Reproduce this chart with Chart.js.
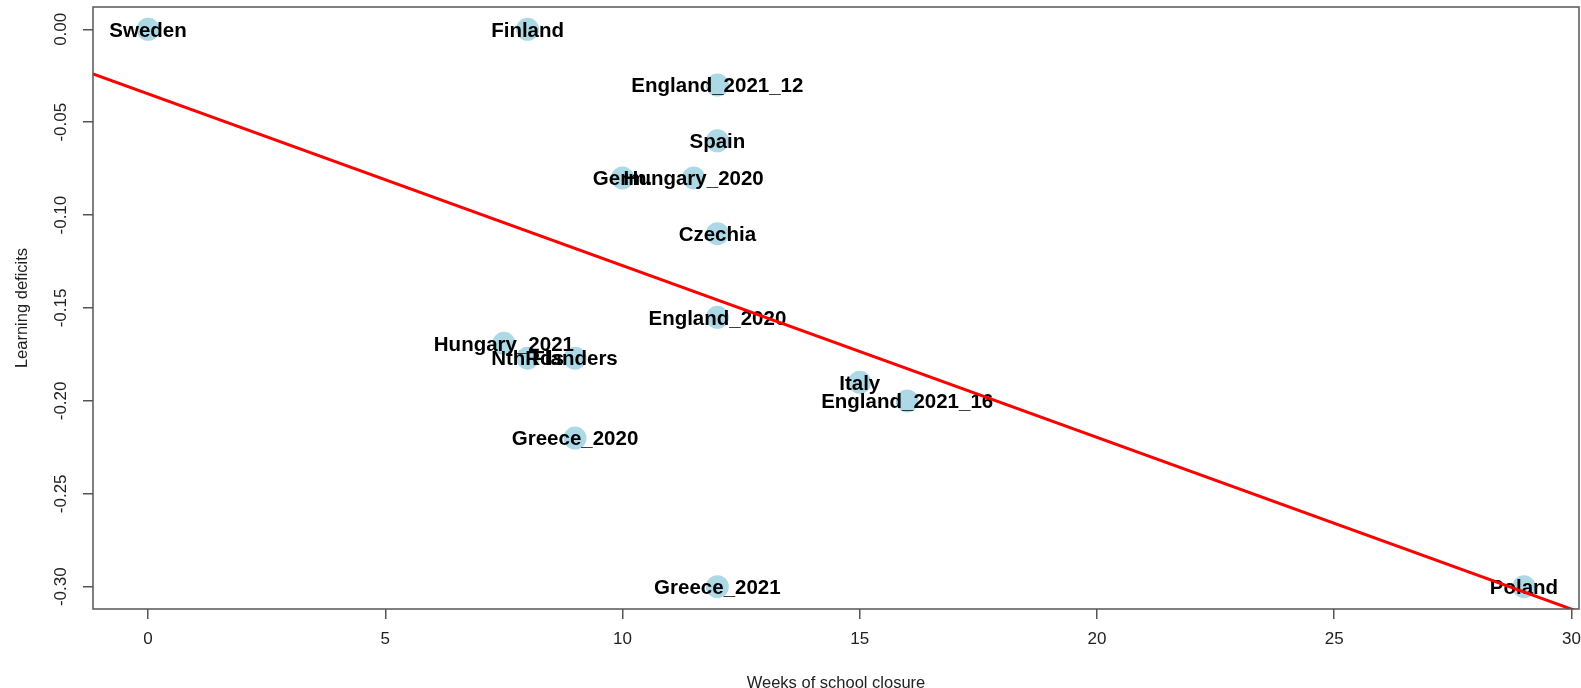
<!DOCTYPE html>
<html>
<head>
<meta charset="utf-8">
<title>Learning deficits vs. weeks of school closure</title>
<script src="https://cdn.jsdelivr.net/npm/chart.js@4.4.1/dist/chart.umd.min.js"></script>
<style>
  html, body { margin: 0; padding: 0; background: #ffffff; }
  #wrap { width: 1581px; height: 688px; position: relative; }
</style>
</head>
<body>
<div id="wrap"><canvas id="chart" width="1581" height="688"></canvas></div>
<script>
// Study results: weeks of school closure against measured learning deficit
const countries = ['Sweden', 'Finland', 'England_2021_12', 'Spain', 'Germ.', 'Hungary_2020', 'Czechia',
  'England_2020', 'Hungary_2021', 'NthRds', 'Flanders', 'Italy', 'England_2021_16', 'Greece_2020',
  'Greece_2021', 'Poland'];
const weeksClosed = [0, 8, 12, 12, 10, 11.5, 12, 12, 7.5, 8, 9, 15, 16, 9, 12, 29];
const learningDeficit = [0, 0, -0.03, -0.06, -0.08, -0.08, -0.11, -0.155, -0.169, -0.177, -0.177,
  -0.19, -0.20, -0.22, -0.30, -0.30];

const xTickValues = [0, 5, 10, 15, 20, 25, 30];
const xTickLabels = ['0', '5', '10', '15', '20', '25', '30'];
const yTickValues = [-0.30, -0.25, -0.20, -0.15, -0.10, -0.05, 0.00];
const yTickLabels = ['-0.30', '-0.25', '-0.20', '-0.15', '-0.10', '-0.05', '0.00'];

// Axis ranges: data range widened by 4% on each side
function paddedRange(values) {
  const lo = Math.min(...values), hi = Math.max(...values);
  const pad = (hi - lo) * 0.04;
  return [lo - pad, hi + pad];
}
const [xMin, xMax] = paddedRange(weeksClosed);
const [yMin, yMax] = paddedRange(learningDeficit);

// Ordinary least-squares fit of deficit on weeks closed
function leastSquares(xs, ys) {
  const n = xs.length;
  const mx = xs.reduce((a, b) => a + b, 0) / n;
  const my = ys.reduce((a, b) => a + b, 0) / n;
  let sxy = 0, sxx = 0;
  for (let i = 0; i < n; i++) {
    sxy += (xs[i] - mx) * (ys[i] - my);
    sxx += (xs[i] - mx) * (xs[i] - mx);
  }
  const slope = sxy / sxx;
  return { slope, intercept: my - slope * mx };
}
const fit = leastSquares(weeksClosed, learningDeficit);
const fitLine = [xMin, xMax].map(x => ({ x, y: fit.intercept + fit.slope * x }));

const FONT = "'Liberation Sans', Arial, Helvetica, sans-serif";
Chart.defaults.font.family = FONT;

// Country names written over each point, beneath the fitted line
const pointLabels = {
  id: 'pointLabels',
  afterDatasetDraw(chart, args) {
    if (args.index !== 1) return;
    const ctx = chart.ctx;
    ctx.save();
    ctx.font = 'bold 20.5px ' + FONT;
    ctx.fillStyle = '#000000';
    ctx.textAlign = 'center';
    ctx.textBaseline = 'alphabetic';
    args.meta.data.forEach((el, i) => {
      ctx.fillText(countries[i], el.x, el.y + 7.3);
    });
    ctx.restore();
  }
};

// Frame around the plotting region
const plotFrame = {
  id: 'plotFrame',
  afterDraw(chart) {
    const { ctx, chartArea: a } = chart;
    ctx.save();
    ctx.strokeStyle = '#555555';
    ctx.lineWidth = 1.5;
    ctx.strokeRect(a.left, a.top, a.right - a.left, a.bottom - a.top);
    ctx.restore();
  }
};

// Fixed axis box sizes, no extra room for overhanging tick labels
function fixAxisBox(size, horizontal) {
  return s => {
    if (horizontal) s.height = size; else s.width = size;
    s.paddingLeft = s.paddingRight = s.paddingTop = s.paddingBottom = 0;
  };
}

const axisGrid = {
  drawOnChartArea: false,
  drawTicks: true,
  tickLength: 10,
  color: '#555555',
  lineWidth: 1.5
};

new Chart(document.getElementById('chart'), {
  type: 'scatter',
  data: {
    datasets: [
      {
        label: 'fit',
        data: fitLine,
        showLine: true,
        borderColor: '#ff0000',
        borderWidth: 3,
        pointRadius: 0,
        pointHoverRadius: 0
      },
      {
        label: 'countries',
        data: weeksClosed.map((x, i) => ({ x, y: learningDeficit[i] })),
        backgroundColor: '#add8e6',
        borderWidth: 0,
        pointRadius: 11.5,
        pointHoverRadius: 11.5
      }
    ]
  },
  options: {
    responsive: false,
    animation: false,
    events: [],
    layout: { autoPadding: false, padding: { left: 0, top: 7, right: 2, bottom: 0 } },
    plugins: { legend: { display: false }, tooltip: { enabled: false } },
    scales: {
      x: {
        type: 'linear',
        min: xMin,
        max: xMax,
        afterBuildTicks: s => { s.ticks = xTickValues.map(v => ({ value: v })); },
        afterFit: fixAxisBox(79, true),
        ticks: {
          callback: (v, i) => xTickLabels[i],
          font: { size: 17 },
          color: '#222222',
          padding: 10,
          maxRotation: 0,
          autoSkip: false
        },
        grid: axisGrid,
        border: { display: false },
        title: {
          display: true,
          text: 'Weeks of school closure',
          font: { size: 16.5 },
          color: '#222222',
          padding: { top: 0, bottom: -5 }
        }
      },
      y: {
        type: 'linear',
        min: yMin,
        max: yMax,
        afterBuildTicks: s => { s.ticks = yTickValues.map(v => ({ value: v })); },
        afterFit: fixAxisBox(93, false),
        ticks: {
          callback: (v, i) => yTickLabels[i],
          font: { size: 17 },
          color: '#222222',
          minRotation: 90,
          maxRotation: 90,
          crossAlign: 'center',
          padding: 2,
          autoSkip: false
        },
        grid: axisGrid,
        border: { display: false },
        title: {
          display: true,
          text: 'Learning deficits',
          font: { size: 16.5 },
          color: '#222222',
          padding: { top: 13, bottom: 0 }
        }
      }
    }
  },
  plugins: [pointLabels, plotFrame]
});
</script>
</body>
</html>
